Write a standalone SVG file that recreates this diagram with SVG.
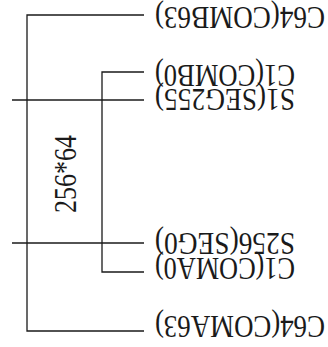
<svg xmlns="http://www.w3.org/2000/svg" width="328" height="347" viewBox="0 0 328 347">
<style>
.ln{stroke:#1a1a1a;stroke-width:1.3;fill:none}
.lb{font-family:"Liberation Serif","Times New Roman",serif;font-size:31px;fill:#1a1a1a}
</style>
<rect width="328" height="347" fill="#fff"/>
<g id="connectors">
<path class="ln" d="M144,15H27V331H144"/>
<path class="ln" d="M144,72H102V272H144"/>
<path class="ln" d="M12,100H144"/>
<path class="ln" d="M12,243H144"/>
</g>
<g id="c64b"><text class="lb" text-anchor="end" textLength="170" lengthAdjust="spacingAndGlyphs" transform="translate(155,7) rotate(180)">C64(COMB63)</text></g>
<g id="c1b"><text class="lb" text-anchor="end" textLength="140" lengthAdjust="spacingAndGlyphs" transform="translate(155,65) rotate(180)">C1(COMB0)</text></g>
<g id="s1"><text class="lb" text-anchor="end" textLength="140" lengthAdjust="spacingAndGlyphs" transform="translate(155,89) rotate(180)">S1(SEG255)</text></g>
<g id="s256"><text class="lb" text-anchor="end" textLength="140" lengthAdjust="spacingAndGlyphs" transform="translate(155,233) rotate(180)">S256(SEG0)</text></g>
<g id="c1a"><text class="lb" text-anchor="end" textLength="140" lengthAdjust="spacingAndGlyphs" transform="translate(155,258) rotate(180)">C1(COMA0)</text></g>
<g id="c64a"><text class="lb" text-anchor="end" textLength="170" lengthAdjust="spacingAndGlyphs" transform="translate(155,316) rotate(180)">C64(COMA63)</text></g>
<g id="size"><text class="lb" text-anchor="middle" textLength="78" lengthAdjust="spacingAndGlyphs" transform="translate(76,174) rotate(-90)">256*64</text></g>
</svg>
